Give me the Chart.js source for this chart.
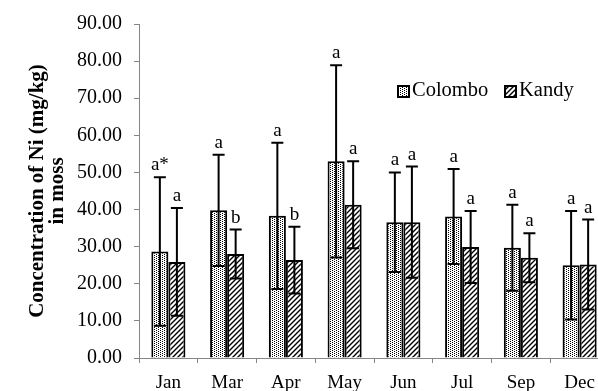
<!DOCTYPE html>
<html><head><meta charset="utf-8">
<script src="https://cdn.jsdelivr.net/npm/chart.js@4/dist/chart.umd.min.js"></script>
<style>
html,body{margin:0;padding:0;overflow:hidden;background:#fff;width:598px;height:391px}
#wrap{width:615px;height:391px}
</style></head>
<body><div id="wrap"><canvas id="c" width="615" height="391"></canvas></div>
<script>
const months = ['Jan','Mar','Apr','May','Jun','Jul','Sep','Dec'];
const colombo = [28.7, 39.8, 38.3, 53.0, 36.6, 38.1, 29.7, 25.0];
const colomboErr = [20.0, 15.0, 19.7, 25.9, 13.4, 12.8, 11.6, 14.6];
const kandy = [25.9, 28.0, 26.4, 41.3, 36.6, 29.9, 27.0, 25.2];
const kandyErr = [14.5, 6.6, 9.0, 11.7, 15.0, 9.7, 6.6, 12.1];
const colomboLetters = ['a*','a','a','a','a','a','a','a'];
const kandyLetters = ['a','b','b','a','a','a','a','a'];
const seriesNames = ['Colombo','Kandy'];

const SERIF = '"Liberation Serif","Times New Roman",serif';

function dotPattern(ctx){
  const c=document.createElement('canvas'); c.width=4; c.height=2;
  const x=c.getContext('2d');
  x.fillStyle='#fff'; x.fillRect(0,0,4,2);
  x.fillStyle='#000'; x.fillRect(0,0,1,1); x.fillRect(2,1,1,1);
  return ctx.createPattern(c,'repeat');
}
function hatchPattern(ctx){
  const s=5; const c=document.createElement('canvas'); c.width=s; c.height=s;
  const x=c.getContext('2d');
  x.fillStyle='#fff'; x.fillRect(0,0,s,s);
  x.strokeStyle='#000'; x.lineWidth=1.4;
  x.beginPath();
  x.moveTo(0,s); x.lineTo(s,0);
  x.moveTo(-1,1); x.lineTo(1,-1);
  x.moveTo(s-1,s+1); x.lineTo(s+1,s-1);
  x.stroke();
  return ctx.createPattern(c,'repeat');
}

const canvas=document.getElementById('c');
const ctx0=canvas.getContext('2d');
const pDots=dotPattern(ctx0), pHatch=hatchPattern(ctx0);

const errPlugin={
  id:'errbars',
  afterDatasetsDraw(chart){
    const ctx=chart.ctx, y=chart.scales.y;
    const sets=[[colombo,colomboErr,colomboLetters],[kandy,kandyErr,kandyLetters]];
    sets.forEach((s,di)=>{
      const meta=chart.getDatasetMeta(di);
      meta.data.forEach((bar,i)=>{
        const v=s[0][i], e=s[1][i];
        const yt=y.getPixelForValue(v+e), yb=y.getPixelForValue(v-e), x=bar.x;
        ctx.save();
        ctx.strokeStyle='#000'; ctx.lineWidth=2;
        ctx.beginPath();
        ctx.moveTo(x,yt); ctx.lineTo(x,yb);
        ctx.moveTo(x-6,yt); ctx.lineTo(x+6,yt);
        ctx.moveTo(x-6,yb); ctx.lineTo(x+6,yb);
        ctx.stroke();
        ctx.fillStyle='#000';
        ctx.font='19px '+SERIF;
        ctx.textAlign='center'; ctx.textBaseline='alphabetic';
        ctx.fillText(s[2][i], x, yt-7);
        ctx.restore();
      });
    });
    // legend
    const items=[[pDots,seriesNames[0],397],[pHatch,seriesNames[1],504]];
    ctx.save();
    items.forEach(([p,name,lx])=>{
      ctx.fillStyle=p; ctx.fillRect(lx,85,12,12);
      ctx.strokeStyle='#000'; ctx.lineWidth=2; ctx.strokeRect(lx+1,86,11,11);
      ctx.fillStyle='#000'; ctx.font='20.5px '+SERIF;
      ctx.textAlign='left'; ctx.textBaseline='middle';
      ctx.fillText(name, lx+15, 91);
    });
    ctx.restore();
  }
};

new Chart(canvas,{
  type:'bar',
  data:{
    labels:months,
    datasets:[
      {label:seriesNames[0],data:colombo,backgroundColor:pDots,borderColor:'#000',borderWidth:2,categoryPercentage:0.58,barPercentage:1},
      {label:seriesNames[1],data:kandy,backgroundColor:pHatch,borderColor:'#000',borderWidth:2,categoryPercentage:0.58,barPercentage:1}
    ]
  },
  options:{
    responsive:false, animation:false,
    layout:{padding:{top:24,right:6,left:0,bottom:0}},
    plugins:{legend:{display:false},tooltip:{enabled:false}},
    scales:{
      x:{
        grid:{display:true,drawOnChartArea:false,drawTicks:true,tickLength:5,color:'#868686',offset:true},
        border:{color:'#868686',width:1},
        ticks:{color:'#000',font:{family:SERIF,size:19},padding:9,maxRotation:0},
        afterFit(s){s.height=33;}
      },
      y:{
        min:0,max:90,
        ticks:{stepSize:10,callback:v=>Number(v).toFixed(2),color:'#000',font:{family:SERIF,size:20},padding:12},
        grid:{drawOnChartArea:false,tickLength:5,color:'#868686'},
        border:{color:'#868686',width:1},
        title:{display:true,text:['Concentration of Ni (mg/kg)','in moss'],color:'#000',
          font:{family:SERIF,size:21,weight:'bold',lineHeight:0.95},padding:{top:28,bottom:0}},
        afterFit(s){s.width=139;}
      }
    }
  },
  plugins:[errPlugin]
});
</script>
</body></html>
